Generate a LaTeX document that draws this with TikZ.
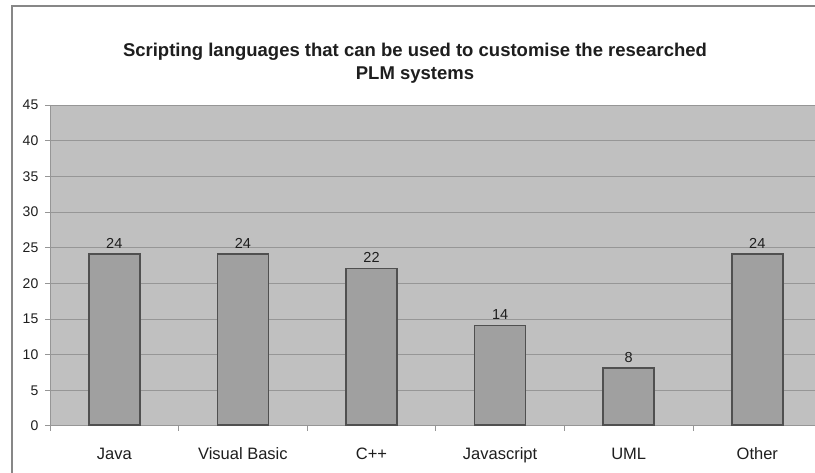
\documentclass[tikz,border=0pt]{standalone}
\usepackage{fontspec}
\setmainfont{Liberation Sans}
\usetikzlibrary{positioning}
\definecolor{framegray}{RGB}{135,135,135}
\definecolor{plotgray}{RGB}{192,192,192}
\definecolor{gridgray}{RGB}{150,150,150}
\definecolor{bargray}{RGB}{160,160,160}
\definecolor{barline}{RGB}{80,80,80}
\definecolor{textgray}{RGB}{30,30,30}
\begin{document}
\begin{tikzpicture}[x=1pt,y=-1pt,
    bar/.style={draw=barline,fill=bargray,line width=1.5pt,inner sep=0pt,minimum width=51pt,anchor=south},
    ylab/.style={anchor=east,inner sep=0pt,font=\fontsize{14}{14}\selectfont,text=textgray},
    xlab/.style={anchor=base,inner sep=0pt,font=\fontsize{16.5}{16.5}\selectfont,text=textgray},
    vlab/.style={inner sep=0pt,font=\fontsize{14.5}{14.5}\selectfont,text=textgray}]
    \useasboundingbox (0,0) rectangle (815,473);
    \clip (0,0) rectangle (815,473);
    \fill[white] (0,0) rectangle (815,473);
    \draw[framegray,line width=2pt] (12,6) rectangle (840,490);
    % title
    \node[align=center,font=\bfseries\fontsize{18.5}{23}\selectfont,text=textgray] (title) at (415,63)
        {Scripting languages that can be used to customise the researched\\PLM systems};
    % plot area and grid
    \fill[plotgray] (50,105) rectangle (822,426);
    \foreach \v in {5,10,...,45}
        \draw[gridgray,line width=1pt] (45,{426-\v*7.133}) -- (822,{426-\v*7.133});
    \foreach \v in {0,5,...,45}
        \node[ylab] (y\v) at (38.5,{426-\v*7.133}) {\v};
    \draw[gridgray,line width=1pt] (50,105) -- (50,426);
    \draw[gridgray,line width=1pt] (45,426) -- (822,426);
    \foreach \i in {0,...,6}
        \draw[gridgray,line width=1pt] ({50+\i*128.6},426) -- ++(0,5);
    % bars
    \foreach \val/\lab [count=\i from 0] in {24/Java,24/Visual Basic,22/C++,14/Javascript,8/UML,24/Other} {
        \node[bar,minimum height={\val*7.133pt}] (b\i) at ({50+(\i+0.5)*128.6},426) {};
        \node[vlab,above=5pt of b\i] (v\i) {\val};
        \node[xlab] (c\i) at ({50+(\i+0.5)*128.6},459) {\lab};
    }
\end{tikzpicture}
\end{document}
